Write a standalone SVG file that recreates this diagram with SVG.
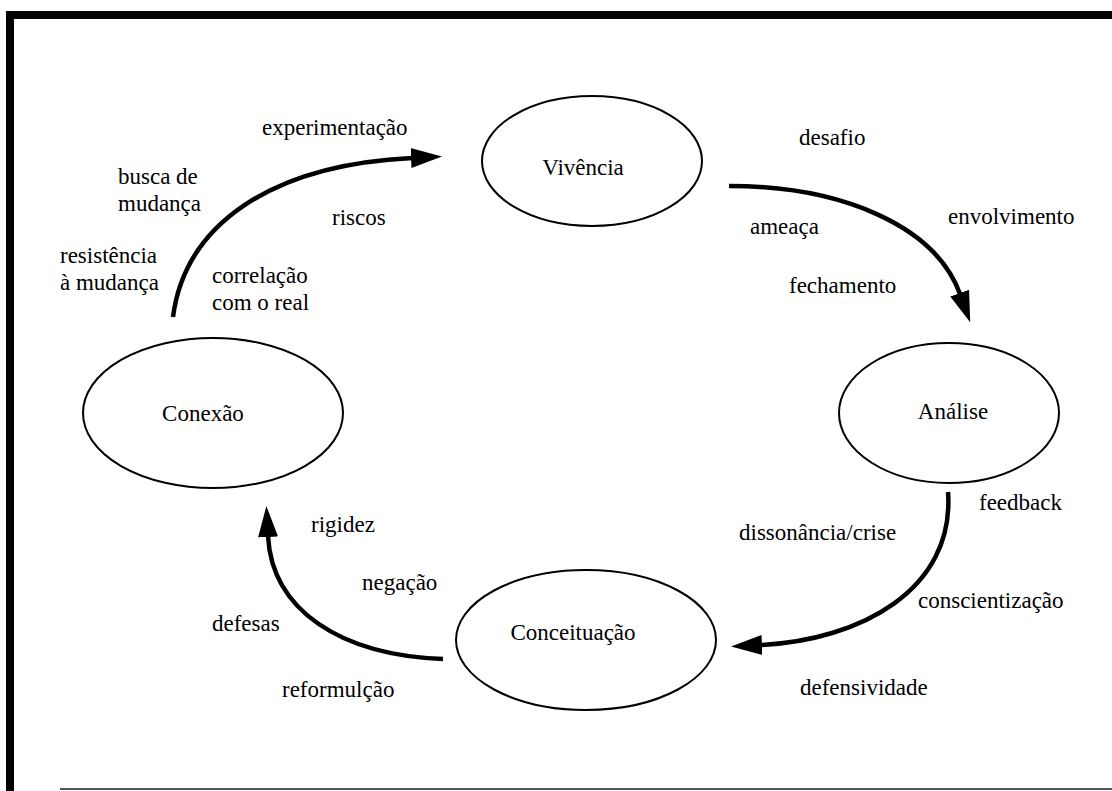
<svg xmlns="http://www.w3.org/2000/svg" width="1112" height="791" viewBox="0 0 1112 791">
  <style>
    .frame { fill: #000; }
    .node ellipse { fill: #fff; stroke: #000; stroke-width: 2; }
    .node text, .lbl { font-family: "Liberation Serif", "Times New Roman", serif; font-size: 23px; fill: #000; }
    .node text { text-anchor: middle; }
    .conn { fill: none; stroke: #000; stroke-width: 4.5; marker-end: url(#head); }
  </style>
  <defs>
    <marker id="head" markerUnits="userSpaceOnUse" markerWidth="34" markerHeight="24" viewBox="0 -12 34 24" refX="1" refY="0" orient="auto">
      <path d="M0,-10 L31,0 L0,10 z" fill="#000"/>
    </marker>
  </defs>

  <!-- page frame -->
  <rect class="frame" x="6" y="11" width="1106" height="8"/>
  <rect class="frame" x="6" y="11" width="8" height="780"/>
  <line x1="60" y1="789" x2="1112" y2="789" stroke="#555" stroke-width="2"/>

  <!-- cycle stages -->
  <g id="vivencia" class="node">
    <ellipse cx="592" cy="161" rx="110" ry="65"/>
    <text x="583" y="175">Vivência</text>
  </g>
  <g id="analise" class="node">
    <ellipse cx="949" cy="413" rx="110" ry="70"/>
    <text x="953" y="419">Análise</text>
  </g>
  <g id="conceituacao" class="node">
    <ellipse cx="586" cy="640" rx="130" ry="70"/>
    <text x="573" y="640">Conceituação</text>
  </g>
  <g id="conexao" class="node">
    <ellipse cx="213" cy="413" rx="130" ry="75"/>
    <text x="203" y="421">Conexão</text>
  </g>

  <!-- curved arrows between stages -->
  <g id="connectors">
    <path class="conn" d="M173,317 C185,225 270,165 412,158"/>
    <path class="conn" d="M729,186 C840,186 935,225 960,294"/>
    <path class="conn" d="M948,492 C955,590 860,640 761,645"/>
    <path class="conn" d="M443,659 C340,655 272,610 268,536"/>
  </g>

  <!-- stage annotations -->
  <g id="labels">
    <text class="lbl" x="262" y="135">experimentação</text>
    <text class="lbl" x="118" y="184">busca de</text>
    <text class="lbl" x="118" y="211">mudança</text>
    <text class="lbl" x="332" y="225">riscos</text>
    <text class="lbl" x="60" y="263">resistência</text>
    <text class="lbl" x="60" y="290">à mudança</text>
    <text class="lbl" x="212" y="283">correlação</text>
    <text class="lbl" x="212" y="310">com o real</text>

    <text class="lbl" x="799" y="145">desafio</text>
    <text class="lbl" x="948" y="224">envolvimento</text>
    <text class="lbl" x="750" y="234">ameaça</text>
    <text class="lbl" x="789" y="293">fechamento</text>

    <text class="lbl" x="979" y="510">feedback</text>
    <text class="lbl" x="739" y="540">dissonância/crise</text>
    <text class="lbl" x="918" y="608">conscientização</text>
    <text class="lbl" x="800" y="695">defensividade</text>

    <text class="lbl" x="311" y="532">rigidez</text>
    <text class="lbl" x="362" y="590">negação</text>
    <text class="lbl" x="212" y="631">defesas</text>
    <text class="lbl" x="282" y="697">reformulção</text>
  </g>
</svg>
